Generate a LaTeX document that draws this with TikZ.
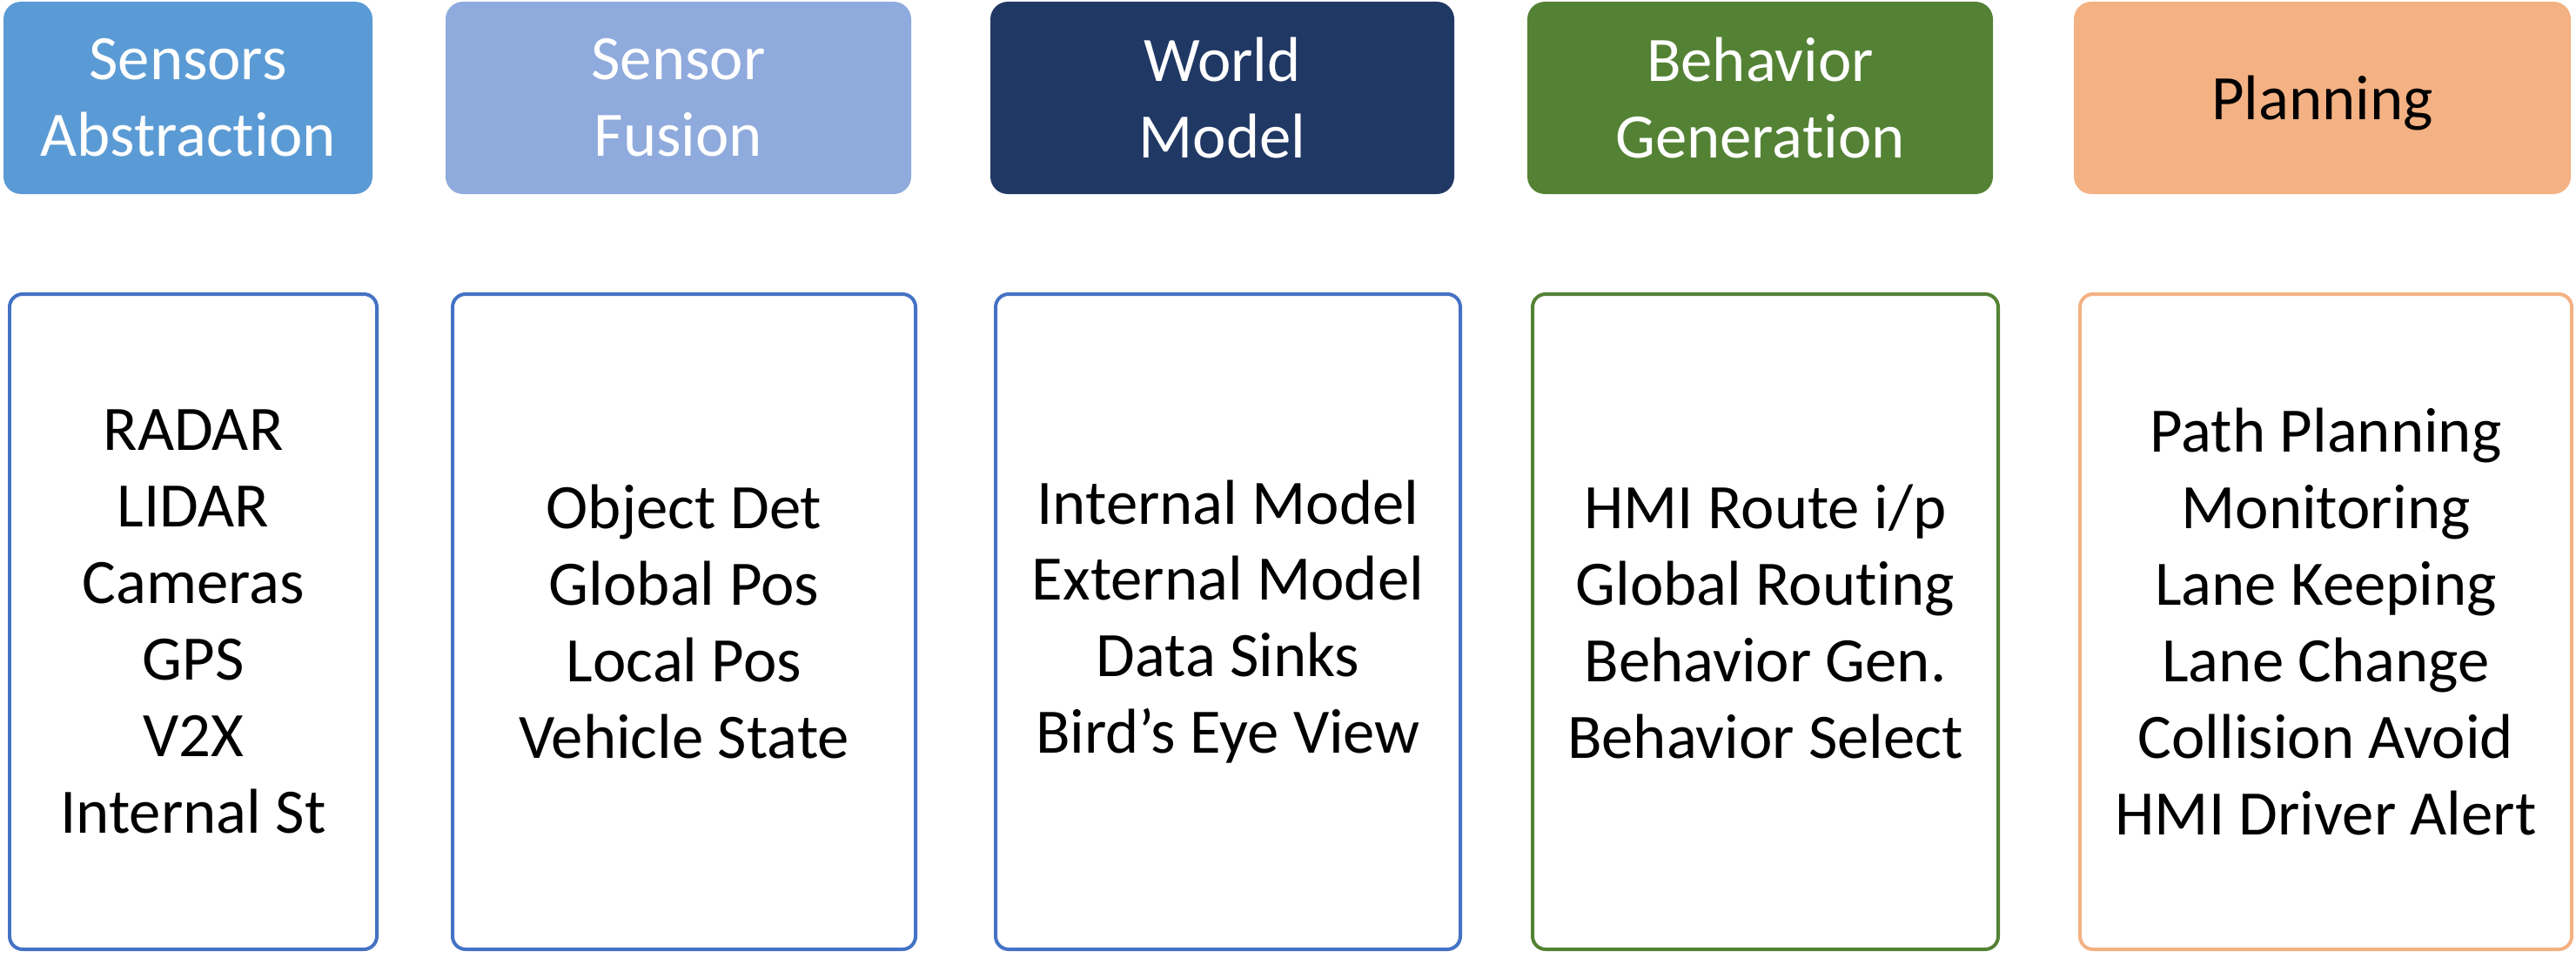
\documentclass[tikz,border=0pt]{standalone}
\usepackage{fontspec}
\setmainfont{Carlito}[Ligatures=NoCommon]
\usepackage{tikz}
\usetikzlibrary{positioning}
\usepackage{xcolor}
\definecolor{sensblue}{HTML}{5B9BD5}
\definecolor{fusblue}{HTML}{8FAADC}
\definecolor{navy}{HTML}{203864}
\definecolor{behgreen}{HTML}{548235}
\definecolor{peach}{HTML}{F4B183}
\definecolor{edgeblue}{HTML}{4472C4}

\begin{document}
\begin{tikzpicture}[every node/.style={font=\fontsize{20.7}{25}\selectfont, align=center},
head/.style={rounded corners=0.2cm, minimum height=2.21cm, text=white, inner sep=0pt},
stack/.style={draw, line width=0.04cm, rounded corners=0.15cm, minimum height=7.53cm, fill=white, inner sep=0pt}]
\useasboundingbox (0,0) rectangle (29.6,-11);
% headers
\node[head, fill=sensblue, minimum width=4.24cm] (h1) at (2.16,-1.125) {Sensors\\Abstraction};
\node[head, fill=fusblue, minimum width=5.35cm] (h2) at (7.795,-1.125) {Sensor\\Fusion};
\node[head, fill=navy, minimum width=5.33cm] (h3) at (14.045,-1.125) {World\\Model};
\node[head, fill=behgreen, minimum width=5.35cm] (h4) at (20.225,-1.125) {Behavior\\Generation};
\node[head, fill=peach, minimum width=5.71cm, text=black, text depth=0pt] (h5) at (26.685,-1.125) {Planning};
% function lists
\node[stack, draw=edgeblue, minimum width=4.22cm] (s1) at (2.22,-7.145) {RADAR\\LIDAR\\Cameras\\GPS\\V2X\\Internal St};
\node[stack, draw=edgeblue, minimum width=5.32cm] (s2) at (7.86,-7.145) {Object Det\\Global Pos\\Local Pos\\Vehicle State};
\node[stack, draw=edgeblue, minimum width=5.34cm] (s3) at (14.11,-7.145) {Internal Model\\External Model\\Data Sinks\\Bird’s Eye View};
\node[stack, draw=behgreen, minimum width=5.35cm] (s4) at (20.285,-7.145) {HMI Route i/p\\Global Routing\\Behavior Gen.\\Behavior Select};
\node[stack, draw=peach, minimum width=5.65cm] (s5) at (26.725,-7.145) {Path Planning\\Monitoring\\Lane Keeping\\Lane Change\\Collision Avoid\\HMI Driver Alert};
\end{tikzpicture}
\end{document}
